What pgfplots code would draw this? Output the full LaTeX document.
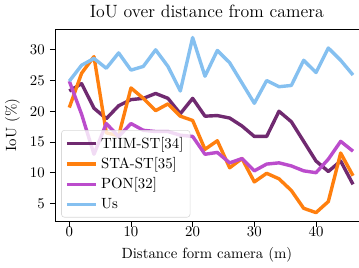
\documentclass[border=0pt]{standalone}
\usepackage{pgfplots}
\pgfplotsset{compat=1.18}
\definecolor{tiim}{RGB}{112,42,112}
\definecolor{sta}{RGB}{255,127,14}
\definecolor{pon}{RGB}{187,76,204}
\definecolor{us}{RGB}{133,192,240}
\begin{document}
\begin{tikzpicture}
\begin{axis}[
  scale only axis,
  width=205pt, height=130pt,
  xmin=-2.3, xmax=46.9, ymin=2.07, ymax=33.4,
  axis x line*=bottom, axis y line*=left,
  axis line style={-, line width=0.6pt},
  xtick={0,10,20,30,40}, ytick={5,10,15,20,25,30},
  tick align=outside, major tick length=3.5pt,
  tick style={black, line width=0.6pt},
  xticklabel style={yshift=3pt},
  title={IoU over distance from camera},
  title style={font=\large, yshift=-2pt},
  xlabel={Distance form camera (m)},
  xlabel style={yshift=-0.5pt},
  ylabel={IoU (\%)},
  legend style={at={(0.02,0.02)}, anchor=south west, draw=black!15, fill=white, fill opacity=0.8, text opacity=1, rounded corners=2pt, row sep=0.8pt, inner sep=2.5pt},
  legend cell align=left,
  legend image code/.code={\draw[#1] (0pt,0pt) -- (20pt,0pt);},
]
\addplot[color=tiim, line width=2.3pt, line join=round] coordinates {
(0,23.3) (2,24.5) (4,20.5) (6,18.8) (8,20.9) (10,21.9) (12,22.1) (14,22.9) (16,22.1) (18,19.6) (20,22.1) (22,19.2) (24,19.3) (26,18.9) (28,17.6) (30,15.9) (32,15.9) (34,20.0) (36,18.3) (38,15.1) (40,11.9) (42,10.2) (44,11.9) (46,8.1)};
\addlegendentry{TIIM-ST[34]}
\addplot[color=sta, line width=2.3pt, line join=round] coordinates {
(0,20.6) (2,26.2) (4,28.9) (6,16.5) (8,16.0) (10,23.8) (12,22.1) (14,20.1) (16,21.2) (18,19.2) (20,18.5) (22,13.8) (24,15.2) (26,10.8) (28,12.3) (30,8.5) (32,9.9) (34,9.0) (36,7.1) (38,4.2) (40,3.5) (42,5.3) (44,13.2) (46,9.5)};
\addlegendentry{STA-ST[35]}
\addplot[color=pon, line width=2.3pt, line join=round] coordinates {
(0,24.9) (2,19.5) (4,13.0) (6,18.0) (8,15.9) (10,18.0) (12,16.9) (14,16.7) (16,16.7) (18,16.1) (20,15.9) (22,13.0) (24,13.3) (26,11.6) (28,12.3) (30,10.3) (32,11.4) (34,11.6) (36,11.1) (38,10.3) (40,10.0) (42,12.2) (44,15.1) (46,13.5)};
\addlegendentry{PON[32]}
\addplot[color=us, line width=2.3pt, line join=round] coordinates {
(0,24.9) (2,27.5) (4,28.6) (6,27.0) (8,29.5) (10,26.7) (12,27.3) (14,30.0) (16,27.3) (18,23.3) (20,32.0) (22,25.7) (24,29.9) (26,27.9) (28,24.6) (30,21.3) (32,25.0) (34,24.0) (36,24.2) (38,28.3) (40,26.3) (42,30.3) (44,28.3) (46,25.9)};
\addlegendentry{Us}
\end{axis}
\draw[line width=0.6pt] (current axis.north west) -- (current axis.north east);
\end{tikzpicture}
\end{document}
